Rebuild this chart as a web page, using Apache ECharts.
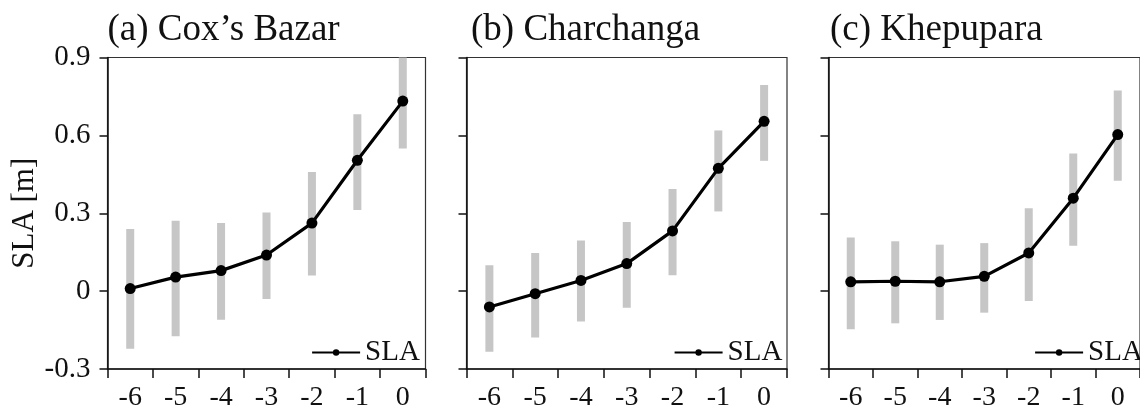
<!DOCTYPE html>
<html>
<head>
<meta charset="utf-8">
<script src="https://cdn.jsdelivr.net/npm/echarts@6/dist/echarts.min.js"></script>
<style>
html,body{margin:0;padding:0;background:#fff;}
#chart{width:1140px;height:412px;}
</style>
</head>
<body>
<div id="chart"></div>
<script>
// ---- data ----
var categories = ['-6', '-5', '-4', '-3', '-2', '-1', '0'];
var yTickLabels = ['-0.3', '0', '0.3', '0.6', '0.9'];
var panelTitles = ['(a) Cox\u2019s Bazar', '(b) Charchanga', '(c) Khepupara'];

var slaCox   = [0.01, 0.054, 0.079, 0.139, 0.262, 0.504, 0.732];
var lowCox   = [-0.222, -0.174, -0.110, -0.030, 0.060, 0.313, 0.549];
var highCox  = [0.239, 0.271, 0.262, 0.303, 0.459, 0.681, 0.915];

var slaChar  = [-0.061, -0.010, 0.041, 0.106, 0.232, 0.473, 0.654];
var lowChar  = [-0.234, -0.179, -0.117, -0.064, 0.061, 0.307, 0.502];
var highChar = [0.100, 0.147, 0.195, 0.266, 0.393, 0.619, 0.794];

var slaKhep  = [0.036, 0.038, 0.036, 0.057, 0.147, 0.358, 0.603];
var lowKhep  = [-0.147, -0.124, -0.111, -0.083, -0.038, 0.175, 0.425];
var highKhep = [0.207, 0.192, 0.179, 0.185, 0.319, 0.530, 0.773];

var panels = [
  {sla: slaCox, low: lowCox, high: highCox},
  {sla: slaChar, low: lowChar, high: highChar},
  {sla: slaKhep, low: lowKhep, high: highKhep}
];

// ---- layout / style ----
var FONT = "'Liberation Serif','Times New Roman',serif";
var gridLefts = [107.5, 466.5, 828.5];
var gridWidths = [318, 320.5, 319];
var gridTop = 57.5, gridHeight = 312.5;
var legendLefts = [306, 668.5, 1029];
var titleLefts = [107.5, 471, 830];

var option = {
  backgroundColor: '#fff',
  animation: false,
  textStyle: {fontFamily: FONT},
  title: [], grid: [], xAxis: [], yAxis: [], legend: [], series: []
};

panels.forEach(function (p, i) {
  option.title.push({
    text: panelTitles[i], left: titleLefts[i], top: 12, padding: 0,
    textStyle: {fontFamily: FONT, fontSize: 37, fontWeight: 'normal', color: '#111'}
  });
  option.grid.push({
    left: gridLefts[i], top: gridTop, width: gridWidths[i], height: gridHeight,
    show: true, borderColor: '#333', borderWidth: 1.2, backgroundColor: 'transparent'
  });
  option.xAxis.push({
    type: 'category', gridIndex: i, data: categories, boundaryGap: true,
    axisLine: {onZero: false, lineStyle: {color: '#111', width: 1.5}},
    axisTick: {show: true, alignWithLabel: false, length: 9, inside: false, lineStyle: {color: '#111', width: 1.5}},
    axisLabel: {fontFamily: FONT, fontSize: 28, color: '#111', margin: 15},
    splitLine: {show: false}
  });
  option.yAxis.push({
    type: 'value', gridIndex: i, min: -0.3, max: 0.9, interval: 0.3,
    name: i === 0 ? 'SLA [m]' : '',
    nameLocation: 'middle', nameGap: 63, nameRotate: 90,
    nameTextStyle: {fontFamily: FONT, fontSize: 31, color: '#111'},
    axisLine: {show: true, onZero: false, lineStyle: {color: '#111', width: 1.5}},
    axisTick: {show: true, length: 8, inside: false, lineStyle: {color: '#111', width: 1.5}},
    axisLabel: {
      show: i === 0, fontFamily: FONT, fontSize: 29, color: '#111', margin: 17,
      formatter: function (v, idx) { return yTickLabels[idx]; }
    },
    splitLine: {show: false}
  });
  option.legend.push({
    data: ['SLA'], left: legendLefts[i], top: 333,
    itemWidth: 48, itemHeight: 8, itemGap: 0,
    textStyle: {fontFamily: FONT, fontSize: 29, color: '#111'},
    lineStyle: {width: 2.2},
    selectedMode: false
  });
  // error bars
  option.series.push({
    type: 'custom', xAxisIndex: i, yAxisIndex: i, z: 1, silent: true,
    data: categories.map(function (c, k) { return [k, p.low[k], p.high[k]]; }),
    renderItem: function (params, api) {
      var x = api.value(0);
      var lo = api.coord([x, api.value(1)]);
      var hi = api.coord([x, api.value(2)]);
      var w = 8;
      var rect = echarts.graphic.clipRectByRect(
        {x: lo[0] - w / 2, y: hi[1], width: w, height: lo[1] - hi[1]},
        {x: params.coordSys.x, y: params.coordSys.y, width: params.coordSys.width, height: params.coordSys.height}
      );
      if (!rect) return;
      return {type: 'rect', shape: rect, style: {fill: '#c6c6c6'}};
    }
  });
  option.series.push({
    name: 'SLA', type: 'line', xAxisIndex: i, yAxisIndex: i, z: 3,
    data: p.sla, symbol: 'circle', symbolSize: 11, showSymbol: true,
    lineStyle: {color: '#000', width: 3.2},
    itemStyle: {color: '#000'}
  });
});

var chart = echarts.init(document.getElementById('chart'), null, {renderer: 'canvas'});
chart.setOption(option);
</script>
</body>
</html>
